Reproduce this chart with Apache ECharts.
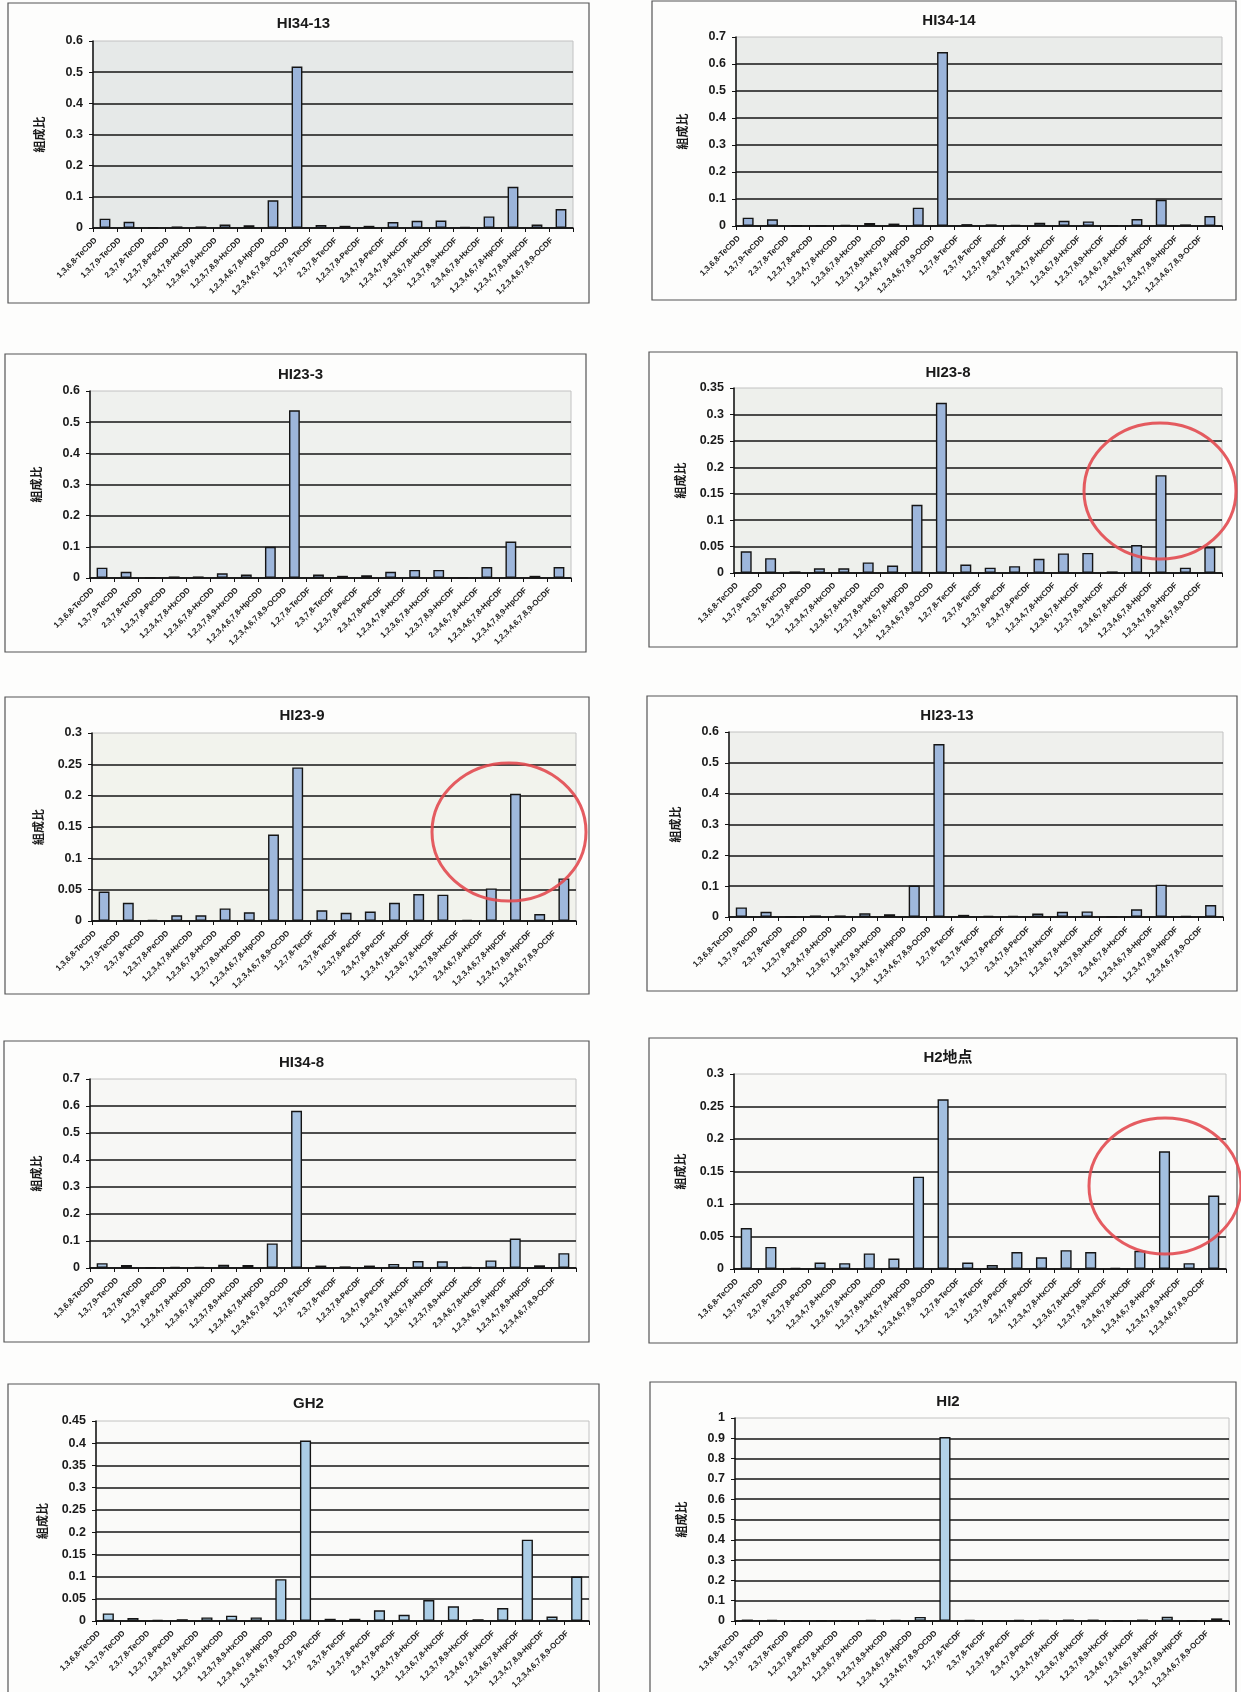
<!DOCTYPE html>
<html>
<head>
<meta charset="utf-8">
<script src="https://cdn.jsdelivr.net/npm/echarts@6/dist/echarts.min.js"></script>
<style>
  html, body { margin: 0; padding: 0; background: #fdfdfc; }
  #c { width: 1241px; height: 1692px; }
</style>
</head>
<body>
<div id="c"></div>
<script>
// Congener names (x categories)
const congeners = [
  '1,3,6,8-TeCDD', '1,3,7,9-TeCDD', '2,3,7,8-TeCDD', '1,2,3,7,8-PeCDD',
  '1,2,3,4,7,8-HxCDD', '1,2,3,6,7,8-HxCDD', '1,2,3,7,8,9-HxCDD', '1,2,3,4,6,7,8-HpCDD',
  '1,2,3,4,6,7,8,9-OCDD', '1,2,7,8-TeCDF', '2,3,7,8-TeCDF', '1,2,3,7,8-PeCDF',
  '2,3,4,7,8-PeCDF', '1,2,3,4,7,8-HxCDF', '1,2,3,6,7,8-HxCDF', '1,2,3,7,8,9-HxCDF',
  '2,3,4,6,7,8-HxCDF', '1,2,3,4,6,7,8-HpCDF', '1,2,3,4,7,8,9-HpCDF', '1,2,3,4,6,7,8,9-OCDF'
];

// Composition ratios per sampling point
const HI34_13 = [0.030, 0.020, 0.002, 0.005, 0.005, 0.011, 0.009, 0.089, 0.518, 0.010, 0.007, 0.007, 0.019, 0.023, 0.024, 0.003, 0.037, 0.132, 0.011, 0.061];
const HI34_14 = [0.031, 0.025, 0.002, 0.002, 0.005, 0.011, 0.009, 0.068, 0.644, 0.007, 0.006, 0.005, 0.012, 0.019, 0.017, 0.002, 0.026, 0.097, 0.006, 0.037];
const HI23_3  = [0.033, 0.020, 0.001, 0.005, 0.005, 0.015, 0.011, 0.100, 0.538, 0.011, 0.007, 0.009, 0.020, 0.026, 0.026, 0.001, 0.035, 0.117, 0.007, 0.035];
const HI23_8  = [0.041, 0.028, 0.003, 0.009, 0.009, 0.020, 0.014, 0.129, 0.322, 0.016, 0.010, 0.013, 0.027, 0.037, 0.038, 0.003, 0.053, 0.185, 0.010, 0.049];
const HI23_9  = [0.047, 0.029, 0.002, 0.009, 0.009, 0.020, 0.014, 0.138, 0.245, 0.017, 0.013, 0.015, 0.029, 0.043, 0.042, 0.002, 0.052, 0.203, 0.011, 0.068];
const HI23_13 = [0.031, 0.017, 0.001, 0.005, 0.005, 0.012, 0.009, 0.102, 0.561, 0.007, 0.004, 0.004, 0.011, 0.017, 0.018, 0.001, 0.025, 0.105, 0.003, 0.039];
const HI34_8  = [0.018, 0.011, 0.002, 0.005, 0.005, 0.012, 0.011, 0.091, 0.582, 0.009, 0.006, 0.009, 0.015, 0.026, 0.025, 0.004, 0.028, 0.109, 0.010, 0.055];
const H2      = [0.063, 0.034, 0.002, 0.010, 0.009, 0.024, 0.016, 0.142, 0.261, 0.010, 0.006, 0.026, 0.018, 0.029, 0.026, 0.002, 0.028, 0.181, 0.009, 0.113];
const GH2     = [0.017, 0.007, 0.002, 0.004, 0.008, 0.012, 0.008, 0.094, 0.406, 0.005, 0.005, 0.024, 0.014, 0.047, 0.033, 0.004, 0.029, 0.183, 0.010, 0.100];
const HI2     = [0.007, 0.005, 0.001, 0.003, 0.003, 0.005, 0.005, 0.020, 0.906, 0.005, 0.003, 0.005, 0.005, 0.007, 0.007, 0.003, 0.007, 0.021, 0.003, 0.013];

const panelTitles = ['HI34-13', 'HI34-14', 'HI23-3', 'HI23-8', 'HI23-9', 'HI23-13', 'HI34-8', 'H2地点', 'GH2', 'HI2'];
const panelValues = [HI34_13, HI34_14, HI23_3, HI23_8, HI23_9, HI23_13, HI34_8, H2, GH2, HI2];
const axisMax  = [0.6, 0.7, 0.6, 0.35, 0.3, 0.6, 0.7, 0.3, 0.45, 1];
const axisStep = [0.1, 0.1, 0.1, 0.05, 0.05, 0.1, 0.1, 0.05, 0.05, 0.1];
const yName = '組成比';

// Panel frames [x0, y0, x1, y1] and plot areas [left, top, right, bottom]
const frames = [
  [8, 3, 589, 303], [652, 1, 1236, 300],
  [5, 354, 586, 652], [649, 352, 1237, 647],
  [5, 697, 589, 994], [647, 696, 1237, 991],
  [4, 1041, 589, 1342], [649, 1038, 1237, 1343],
  [8, 1384, 599, 1720], [650, 1382, 1236, 1720]
];
const plots = [
  [93, 41, 573, 228], [736, 37, 1222, 226],
  [90, 391, 571, 578], [734, 388, 1222, 573],
  [92, 733, 576, 921], [729, 732, 1223, 917],
  [90, 1079, 576, 1268], [734, 1074, 1226, 1269],
  [96, 1421, 589, 1621], [735, 1418, 1229, 1621]
];
const titleTop = [11, 8, 362, 360, 703, 703, 1050, 1045, 1391, 1389];
const plotBg = ['#e6e9e8', '#eaecea', '#eff1ee', '#eef0ec', '#f2f3ed', '#eff0ed', '#f7f7f5', '#f9f9f7', '#fafaf9', '#fafaf9'];
const barFill = ['#9bb4da', '#9bb4da', '#9db6db', '#9db6db', '#9fb8dc', '#9fb8dc', '#a8c4e2', '#a3bfdf', '#abcde6', '#b3d2e9'];

// Red highlight rings [cx, cy, rx, ry]
const rings = [[1160, 491, 76, 68], [509, 832, 77, 69], [1165, 1186, 76, 68]];

const fontLatin = 'Liberation Sans, Arial, sans-serif';
const fontCJK = 'Liberation Sans, "Noto Sans CJK JP", sans-serif';

const fmt = v => String(parseFloat(Number(v).toFixed(2)));

const grid = [], xAxis = [], yAxis = [], series = [], title = [], graphic = [];

panelValues.forEach((vals, k) => {
  const [L, T, R, B] = plots[k];
  const [fx0, fy0, fx1, fy1] = frames[k];
  grid.push({
    left: L, top: T, width: R - L, height: B - T,
    show: true, backgroundColor: plotBg[k], borderColor: '#c2c2c2', borderWidth: 1
  });
  title.push({
    text: panelTitles[k], left: (fx0 + fx1) / 2, top: titleTop[k], textAlign: 'center',
    textStyle: { fontSize: 15, fontWeight: 'bold', color: '#1a1a1a', fontFamily: fontCJK }
  });
  xAxis.push({
    type: 'category', gridIndex: k, data: congeners,
    axisLine: { lineStyle: { color: '#111', width: 1.5 } },
    axisTick: { show: true, length: 4, lineStyle: { color: '#111', width: 1 } },
    axisLabel: {
      interval: 0, rotate: 45, fontSize: 8, fontWeight: 'bold', color: '#1a1a1a',
      fontFamily: fontLatin, margin: 2, padding: [0, 13, 0, 0]
    },
    splitLine: { show: false }
  });
  yAxis.push({
    type: 'value', gridIndex: k, min: 0, max: axisMax[k], interval: axisStep[k],
    name: yName, nameLocation: 'middle', nameRotate: 90, nameGap: 48,
    nameTextStyle: { fontSize: 12, fontWeight: 'bold', color: '#1a1a1a', fontFamily: '"Noto Sans CJK JP", sans-serif' },
    axisLine: { show: true, lineStyle: { color: '#111', width: 1.5 } },
    axisTick: { show: true, length: 4, lineStyle: { color: '#111' } },
    axisLabel: { fontSize: 12.5, fontWeight: 'bold', color: '#1a1a1a', fontFamily: fontLatin, margin: 10, formatter: fmt },
    splitLine: { show: true, showMaxLine: false, lineStyle: { color: '#151515', width: 1.5 } }
  });
  series.push({
    type: 'bar', xAxisIndex: k, yAxisIndex: k, data: vals, barWidth: '45%',
    itemStyle: { color: barFill[k], borderColor: '#151515', borderWidth: 1.4 },
    silent: true
  });
  graphic.push({
    type: 'rect', silent: true, z: 10,
    shape: { x: fx0, y: fy0, width: fx1 - fx0, height: fy1 - fy0 },
    style: { fill: 'none', stroke: '#555', lineWidth: 1.2 }
  });
});

rings.forEach(([cx, cy, rx, ry]) => {
  graphic.push({
    type: 'ellipse', silent: true, z: 20,
    shape: { cx, cy, rx, ry },
    style: { fill: 'none', stroke: 'rgba(226,74,80,0.9)', lineWidth: 3 }
  });
});

const chart = echarts.init(document.getElementById('c'), null, { renderer: 'canvas' });
chart.setOption({
  backgroundColor: '#fdfdfc',
  animation: false,
  title, grid, xAxis, yAxis, series, graphic
});
</script>
</body>
</html>
